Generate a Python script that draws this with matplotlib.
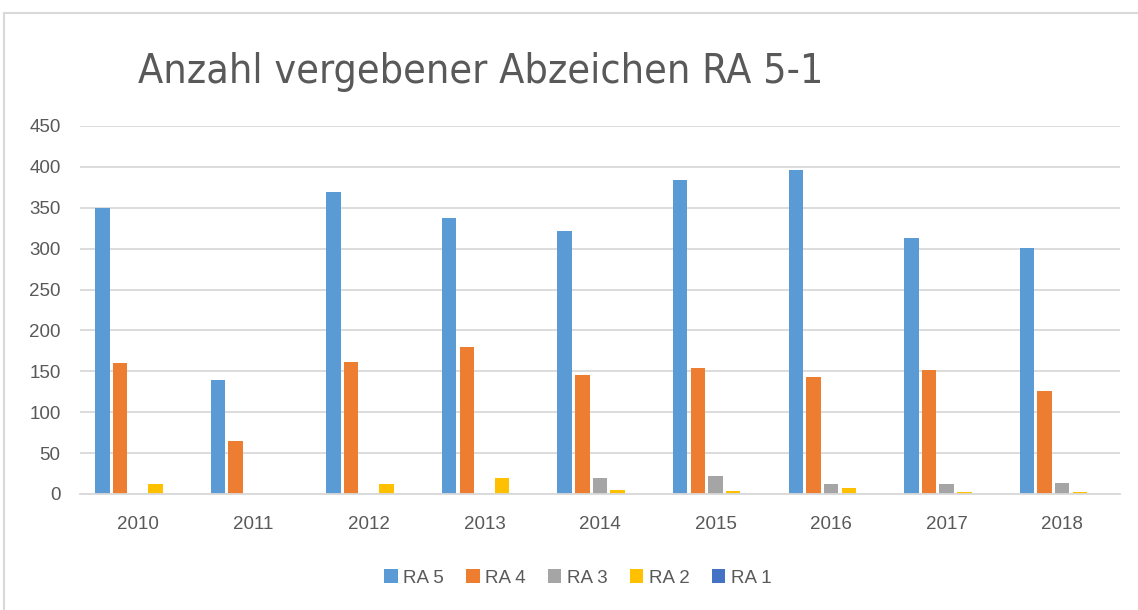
import matplotlib
matplotlib.use("Agg")
import matplotlib.pyplot as plt
import numpy as np
from matplotlib.patches import Rectangle

years = ["2010", "2011", "2012", "2013", "2014", "2015", "2016", "2017", "2018"]
ra5 = [350, 140, 369, 338, 322, 384, 396, 313, 301]
ra4 = [160, 65, 161, 180, 146, 154, 143, 152, 126]
ra3 = [0, 0, 0, 0, 20, 22, 12, 12, 14]
ra2 = [12, 0, 12, 20, 5, 4, 7, 3, 3]
ra1 = [0, 0, 0, 0, 0, 0, 0, 0, 0]
series_names = ["RA 5", "RA 4", "RA 3", "RA 2", "RA 1"]
colors = ["#5B9BD5", "#ED7D31", "#A5A5A5", "#FFC000", "#4472C4"]
yticks = [0, 50, 100, 150, 200, 250, 300, 350, 400, 450]

plt.rcParams['font.family'] = ['Liberation Sans', 'DejaVu Sans']

W, H = 1138, 610
fig = plt.figure(figsize=(W / 100, H / 100), dpi=100)
# chart border
fig.patches.append(Rectangle((4 / W, -0.1), 1.2, (H - 13) / H + 0.1, transform=fig.transFigure,
                             fill=False, edgecolor="#d9d9d9", linewidth=1.5))

ax = fig.add_axes([80 / W, (H - 494) / H, 1040 / W, 368 / H])
data = [ra5, ra4, ra3, ra2, ra1]
x = np.arange(len(years))
slot = 0.153
for i, (vals, c, name) in enumerate(zip(data, colors, series_names)):
    ax.bar(x + (i - 2) * slot, vals, width=slot * 0.82, color=c, linewidth=0, label=name, zorder=3)

ax.set_xlim(-0.5, len(years) - 0.5)
ax.set_ylim(0, 450)
ax.set_yticks(yticks)
ax.set_xticks(x)
ax.set_xticklabels(years)
ax.yaxis.grid(True, color="#d9d9d9", linewidth=1.3, zorder=0)
ax.set_axisbelow(True)
for s in ["top", "right", "left"]:
    ax.spines[s].set_visible(False)
ax.spines["bottom"].set_color("#d9d9d9")
ax.spines["bottom"].set_linewidth(1.3)
ax.spines["bottom"].set_zorder(4)
ax.tick_params(axis="both", length=0, labelsize=13.5, colors="#595959")
ax.tick_params(axis="y", pad=14)
ax.tick_params(axis="x", pad=16)

fig.text(138 / W, (H - 83) / H, "Anzahl vergebener Abzeichen RA 5-1", fontsize=29.5, color="#595959",
         ha="left", va="baseline", family="DejaVu Sans", stretch="condensed")

leg = fig.legend(loc="center", bbox_to_anchor=(578 / W, (H - 578) / H), ncol=5, frameon=False,
                 fontsize=13.5, handlelength=0.7, handleheight=0.7, handletextpad=0.3, columnspacing=1.2)
for t in leg.get_texts():
    t.set_color("#595959")

fig.savefig("out.png", dpi=100)
